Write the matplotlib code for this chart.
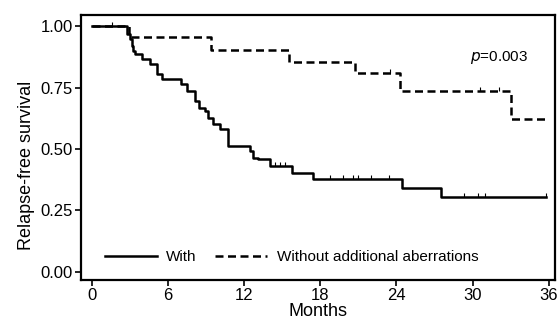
import matplotlib
matplotlib.use('Agg')
import matplotlib.pyplot as plt

plt.rcParams['font.family'] = ['Liberation Sans', 'DejaVu Sans']

# Kaplan-Meier steps (months, survival)
with_t = [0, 2.75, 3.0, 3.12, 3.25, 3.4, 3.52, 3.9, 4.55, 5.1, 5.25, 5.5, 7.05, 7.45,
          8.1, 8.4, 8.9, 9.15, 9.55, 10.1, 10.75, 12.45, 12.7, 13.1, 14.0, 15.8, 17.4,
          24.4, 27.5, 35.8]
with_s = [1.0, 0.966, 0.946, 0.919, 0.898, 0.885, 0.885, 0.865, 0.844, 0.804, 0.804, 0.783,
          0.763, 0.736, 0.695, 0.668, 0.654, 0.627, 0.600, 0.580, 0.512, 0.492, 0.465,
          0.458, 0.431, 0.404, 0.377, 0.343, 0.305, 0.305]
with_cens_t = [1.55, 14.4, 14.8, 15.2, 18.8, 19.8, 20.6, 21.0, 22.0, 23.4, 29.3, 30.4, 31.0, 35.8]
with_cens_s = [1.0, 0.431, 0.431, 0.431, 0.377, 0.377, 0.377, 0.377, 0.377, 0.377,
               0.305, 0.305, 0.305, 0.305]

without_t = [0, 2.95, 9.4, 15.5, 20.7, 24.25, 33.0, 35.7]
without_s = [1.0, 0.955, 0.901, 0.855, 0.810, 0.736, 0.621, 0.621]
without_cens_t = [23.5, 30.6, 32.1]
without_cens_s = [0.810, 0.736, 0.736]

x_ticks = [0, 6, 12, 18, 24, 30, 36]
y_ticks = [0.0, 0.25, 0.5, 0.75, 1.0]
y_ticklabels = ['0.00', '0.25', '0.50', '0.75', '1.00']

fig = plt.figure(figsize=(5.59, 3.25), dpi=100)
ax = fig.add_axes([81 / 559, 1 - 280 / 325, (555 - 81) / 559, (280 - 15) / 325])

ax.step(with_t, with_s, where='post', color='black', lw=1.8, label='With')
ax.step(without_t, without_s, where='post', color='black', lw=1.8,
        linestyle=(0, (3.2, 1.8)), label='Without additional aberrations')
ax.plot(with_cens_t, [s + 0.008 for s in with_cens_s], '|', color='black', ms=3, mew=0.8)
ax.plot(without_cens_t, [s + 0.008 for s in without_cens_s], '|', color='black', ms=3, mew=0.8)

ax.set_xlim(-0.87, 36.5)
ax.set_ylim(-0.033, 1.045)
ax.set_xticks(x_ticks)
ax.set_yticks(y_ticks)
ax.set_yticklabels(y_ticklabels)
ax.tick_params(direction='out', length=4, width=1.2, labelsize=12, pad=2)
for sp in ax.spines.values():
    sp.set_linewidth(1.6)

ax.set_xlabel('Months', fontsize=13, labelpad=0)
ax.set_ylabel('Relapse-free survival', fontsize=13)
ax.yaxis.set_label_coords(-0.097, 0.434)

ax.text(29.8, 0.874, r'$p$=0.003', fontsize=11, va='center', ha='left')

ax.legend(loc='center left', bbox_to_anchor=(0.05, 0.087), frameon=False, ncol=2,
          fontsize=11, handlelength=3.4, columnspacing=1.25, handletextpad=0.6,
          borderpad=0, borderaxespad=0)

fig.savefig('out.png', dpi=100)
